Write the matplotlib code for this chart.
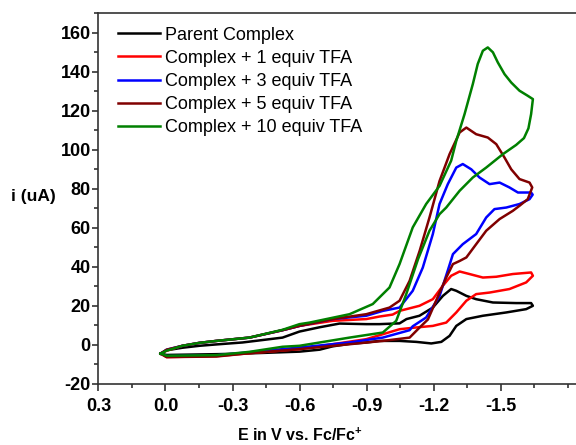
import matplotlib
matplotlib.use("Agg")
import matplotlib.pyplot as plt
from matplotlib.ticker import MultipleLocator

plt.rcParams["font.family"] = ["Liberation Sans", "DejaVu Sans"]
plt.rcParams["mathtext.fontset"] = "custom"
plt.rcParams["mathtext.rm"] = "Liberation Sans"
plt.rcParams["mathtext.bf"] = "Liberation Sans:bold"
plt.rcParams["axes.unicode_minus"] = False

labels = [
    "Parent Complex",
    "Complex + 1 equiv TFA",
    "Complex + 3 equiv TFA",
    "Complex + 5 equiv TFA",
    "Complex + 10 equiv TFA",
]
colors = ["#000000", "#ff0000", "#0000ff", "#800000", "#008000"]

# potential (V vs Fc/Fc+) and current (uA)
# each loop: forward branch left -> right, then return branch right -> left
E_parent = [0.022, -0.005, -0.076, -0.152, -0.228, -0.345, -0.524, -0.600, -0.690, -0.779,
            -0.899, -0.958, -1.048, -1.079, -1.137, -1.197, -1.242, -1.279, -1.302, -1.347,
            -1.391, -1.466, -1.570, -1.637, -1.645,
            -1.615, -1.526, -1.421, -1.347, -1.302, -1.272, -1.235, -1.190, -1.123, -1.048,
            -0.958, -0.899, -0.824, -0.748, -0.690, -0.600, -0.376, -0.228, -0.005, 0.022]
i_parent = [-4.5, -2.8, -1.5, -0.5, 0.2, 1.2, 3.7, 6.8, 9.0, 10.9,
            10.6, 10.6, 11.0, 13.2, 14.9, 19.1, 25.1, 28.6, 27.7, 25.1,
            23.4, 21.7, 21.4, 21.4, 20.0,
            18.3, 16.6, 14.9, 13.2, 9.7, 4.6, 1.5, 0.7, 1.5, 2.0,
            2.0, 1.2, 0.5, -0.8, -2.5, -3.5, -4.4, -4.8, -5.2, -4.5]

E_1eq = [0.022, -0.005, -0.076, -0.152, -0.228, -0.376, -0.524, -0.600, -0.749, -0.899,
         -0.958, -1.017, -1.048, -1.137, -1.197, -1.242, -1.279, -1.317, -1.361, -1.421,
         -1.481, -1.555, -1.637, -1.645,
         -1.615, -1.540, -1.451, -1.391, -1.347, -1.302, -1.257, -1.197, -1.123, -1.048,
         -0.899, -0.748, -0.600, -0.376, -0.228, -0.005, 0.022]
i_1eq = [-4.5, -3.0, -0.5, 1.0, 2.0, 3.7, 7.5, 9.7, 12.3, 13.2,
         14.5, 15.5, 17.4, 20.0, 23.4, 30.3, 35.4, 37.6, 36.3, 34.5,
         34.9, 36.3, 37.1, 35.4,
         32.0, 28.6, 26.8, 26.0, 22.6, 16.6, 11.4, 9.7, 8.9, 8.0,
         2.9, 0.3, -2.2, -4.3, -5.8, -6.3, -4.5]

E_3eq = [0.022, -0.005, -0.076, -0.152, -0.228, -0.376, -0.524, -0.600, -0.748, -0.899,
         -0.973, -1.048, -1.107, -1.152, -1.197, -1.227, -1.264, -1.302, -1.331, -1.369,
         -1.406, -1.451, -1.496, -1.540, -1.578, -1.637, -1.644,
         -1.630, -1.585, -1.526, -1.473, -1.436, -1.391, -1.331, -1.287, -1.265, -1.227,
         -1.167, -1.107, -1.093, -0.973, -0.824, -0.600, -0.376, -0.228, -0.005, 0.022]
i_3eq = [-4.5, -2.5, -0.5, 1.0, 2.0, 3.7, 7.5, 9.7, 13.2, 14.9,
         17.4, 19.1, 27.7, 39.6, 56.8, 72.2, 82.4, 90.9, 92.7, 90.0,
         85.8, 82.4, 83.2, 80.7, 78.1, 78.1, 77.0,
         74.7, 72.2, 70.4, 69.6, 65.3, 56.8, 51.6, 46.5, 38.5, 25.0,
         14.0, 9.5, 7.5, 3.7, 1.2, -1.4, -3.8, -5.4, -5.8, -4.5]

E_5eq = [0.022, -0.005, -0.076, -0.152, -0.228, -0.376, -0.524, -0.600, -0.748, -0.899,
         -1.003, -1.048, -1.093, -1.138, -1.182, -1.227, -1.272, -1.317, -1.347, -1.391,
         -1.443, -1.481, -1.518, -1.548, -1.585, -1.630, -1.642,
         -1.622, -1.585, -1.555, -1.496, -1.436, -1.391, -1.347, -1.317, -1.287, -1.257,
         -1.218, -1.175, -1.138, -1.093, -0.973, -0.824, -0.600, -0.376, -0.228, -0.005,
         0.022]
i_5eq = [-4.5, -2.5, -0.5, 1.0, 2.0, 3.7, 7.5, 9.7, 13.2, 15.7,
         19.1, 22.6, 32.8, 48.2, 65.3, 84.0, 97.8, 108.9, 111.4, 108.0,
         106.3, 102.9, 96.0, 90.0, 85.0, 83.2, 80.7,
         74.7, 71.3, 68.7, 64.5, 58.5, 51.6, 44.8, 43.0, 41.4, 34.5,
         24.3, 13.0, 8.9, 3.7, 2.0, 0.3, -2.2, -4.3, -6.0, -6.3,
         -4.5]

E_10eq = [0.022, -0.005, -0.076, -0.152, -0.228, -0.376, -0.524, -0.600, -0.645, -0.824,
          -0.928, -1.003, -1.048, -1.107, -1.167, -1.227, -1.279, -1.302, -1.339, -1.376,
          -1.398, -1.421, -1.443, -1.466, -1.488, -1.518, -1.548, -1.585, -1.622, -1.645,
          -1.637, -1.625, -1.605, -1.570, -1.511, -1.436, -1.376, -1.317, -1.257, -1.227,
          -1.182, -1.131, -1.078, -1.033, -0.973, -0.824, -0.600, -0.524, -0.376, -0.228,
          -0.005, 0.022]
i_10eq = [-4.5, -3.0, -0.5, 1.0, 2.0, 3.7, 7.7, 10.6, 11.4, 15.7,
          20.9, 29.4, 41.4, 60.2, 72.2, 81.5, 94.4, 104.6, 118.3, 133.7,
          144.0, 150.8, 152.5, 150.0, 144.8, 138.8, 134.5, 130.3, 127.7, 126.0,
          118.3, 111.0, 106.0, 102.5, 97.8, 90.9, 85.8, 79.0, 70.4, 67.0,
          58.5, 44.0, 26.0, 12.3, 6.3, 3.7, -0.5, -1.0, -3.6, -5.3,
          -5.6, -4.5]

E_all = [E_parent, E_1eq, E_3eq, E_5eq, E_10eq]
i_all = [i_parent, i_1eq, i_3eq, i_5eq, i_10eq]

fig = plt.figure(figsize=(5.76, 4.45), dpi=100)
ax = fig.add_axes([0.171, 0.1375, 0.829, 0.8326])

for E, cur, c, lab in zip(E_all, i_all, colors, labels):
    ax.plot(E, cur, color=c, lw=1.8, label=lab, solid_joinstyle="round")

ax.set_xlim(0.3, -1.838)
ax.set_ylim(-20, 170)
ax.xaxis.set_minor_locator(MultipleLocator(0.15))
ax.yaxis.set_minor_locator(MultipleLocator(10))
ax.set_xticks([0.3, 0.0, -0.3, -0.6, -0.9, -1.2, -1.5])
ax.set_xticklabels(["0.3", "0.0", "-0.3", "-0.6", "-0.9", "-1.2", "-1.5"])
ax.set_yticks(range(-20, 161, 20))

ax.spines["right"].set_visible(False)
for s in ["left", "bottom", "top"]:
    ax.spines[s].set_linewidth(1.2)
    ax.spines[s].set_color("#333333")
ax.tick_params(which="both", direction="out", top=False, right=False, color="#333333", width=1.2)
ax.tick_params(axis="x", which="major", length=5, labelsize=13, pad=5)
ax.tick_params(axis="y", which="major", length=4, labelsize=13, pad=1.5)
ax.tick_params(which="minor", length=3)
for t in ax.get_xticklabels() + ax.get_yticklabels():
    t.set_fontweight("bold")

ax.set_xlabel(r"E in V vs. Fc/Fc$^{\mathbf{+}}$", fontsize=11.5, fontweight="bold")
ax.xaxis.set_label_coords(0.421, -0.117)
ax.set_ylabel("i (uA)", fontsize=12.5, fontweight="bold", rotation=0)
ax.yaxis.set_label_coords(-0.137, 0.486)

ax.legend(loc="upper left", bbox_to_anchor=(0.041, 0.964), frameon=False, fontsize=13,
          handlelength=2.3, handletextpad=0.3, labelspacing=0.34, borderaxespad=0, borderpad=0)

fig.savefig("out.png", dpi=100)
